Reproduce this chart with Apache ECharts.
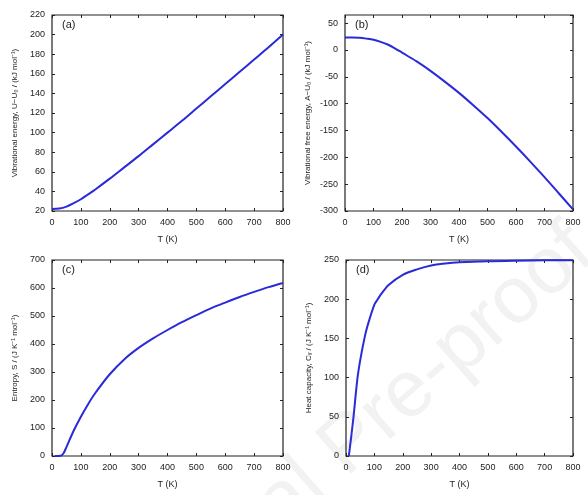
<!DOCTYPE html>
<html>
<head>
<meta charset="utf-8">
<script src="https://cdn.jsdelivr.net/npm/echarts@6/dist/echarts.min.js"></script>
<style>
html,body{margin:0;padding:0;background:#fff;}
#chart{width:588px;height:495px;}
</style>
</head>
<body>
<div id="chart"></div>
<script>
// Temperatures (K) and thermodynamic functions
var tempsU = [0, 25, 50, 75, 100, 125, 150, 200, 250, 300, 350, 400, 450, 500, 550, 600, 650, 700, 750, 800];
var energyU = [22, 22.5, 24.5, 28, 32, 37, 42, 53, 64.5, 76, 88, 100, 112, 124.5, 137, 149.5, 162, 174.5, 187, 200];

var tempsF = [0, 25, 50, 75, 100, 125, 150, 175, 200, 250, 300, 350, 400, 450, 500, 550, 600, 650, 700, 750, 800];
var freeEnergyF = [23, 23, 22.5, 21, 19, 15, 10, 3, -5, -21, -39, -59, -80, -103, -127, -153, -180, -208, -237, -267, -297];

var tempsS = [10, 30, 40, 50, 75, 100, 125, 150, 200, 250, 300, 350, 400, 450, 500, 550, 600, 650, 700, 750, 800];
var entropyS = [0, 1, 10, 32, 90, 140, 185, 225, 292, 345, 386, 420, 450, 478, 503, 527, 548, 568, 586, 603, 618];

var tempsC = [10, 25, 40, 50, 65, 75, 100, 112, 125, 150, 200, 250, 300, 350, 400, 500, 600, 700, 800];
var heatCapC = [0, 45, 98, 122, 150, 165, 193, 200, 207, 218, 231, 238, 243, 245.5, 247, 248.5, 249.2, 249.6, 249.8];

var xTicks = [0, 100, 200, 300, 400, 500, 600, 700, 800];
var panelTags = ['(a)', '(b)', '(c)', '(d)'];
var yNames = [
  'Vibrational energy, U\u2212U\u2080 / (kJ mol\u207b\u00b9)',
  'Vibrational free energy, A\u2212U\u2080 / (kJ mol\u207b\u00b9)',
  'Entropy, S / (J K\u207b\u00b9 mol\u207b\u00b9)',
  'Heat capacity, C\u1d65 / (J K\u207b\u00b9 mol\u207b\u00b9)'
];
var yRanges = [
  {min: 20, max: 220, interval: 20},
  {min: -300, max: 65, interval: 50},
  {min: 0, max: 700, interval: 100},
  {min: 0, max: 250, interval: 50}
];

function pairs(xs, ys) { return xs.map(function (t, i) { return [t, ys[i]]; }); }
var seriesData = [pairs(tempsU, energyU), pairs(tempsF, freeEnergyF), pairs(tempsS, entropyS), pairs(tempsC, heatCapC)];

var FONT = 'Liberation Sans';
var grids = [
  {left: 52, top: 15, width: 231, height: 196},
  {left: 345, top: 15, width: 228, height: 196},
  {left: 52, top: 260, width: 231, height: 196},
  {left: 346, top: 260, width: 227, height: 196}
];

var tick = {inside: true, length: 3, lineStyle: {color: '#222'}};
var hiddenLine = {show: false, onZero: false};
var xAxes = [], yAxes = [], series = [], graphic = [];
grids.forEach(function (g, i) {
  g.show = true; g.borderColor = '#222'; g.borderWidth = 1.2; g.backgroundColor = 'transparent';
  var r = yRanges[i];
  // bottom axis with labels
  xAxes.push({
    gridIndex: i, type: 'value', min: 0, max: 800, interval: 100, position: 'bottom',
    name: 'T (K)', nameLocation: 'middle', nameGap: 24,
    nameTextStyle: {fontFamily: FONT, fontSize: 9, color: '#222'},
    axisLine: hiddenLine, splitLine: {show: false}, axisTick: tick,
    axisLabel: {fontFamily: FONT, fontSize: 9, color: '#222', margin: 7}
  });
  // top mirror ticks
  xAxes.push({
    gridIndex: i, type: 'value', min: 0, max: 800, interval: 100, position: 'top',
    axisLine: hiddenLine, splitLine: {show: false}, axisTick: tick,
    axisLabel: {show: false}
  });
  var fmt = function (v) { return (v % r.interval === 0) ? String(v) : ''; };
  yAxes.push({
    gridIndex: i, type: 'value', min: r.min, max: r.max, interval: r.interval, position: 'left',
    name: yNames[i], nameLocation: 'middle', nameGap: 33,
    nameTextStyle: {fontFamily: FONT, fontSize: 8, color: '#222'},
    axisLine: hiddenLine, splitLine: {show: false}, axisTick: tick,
    axisLabel: {fontFamily: FONT, fontSize: 9, color: '#222', margin: 7, formatter: fmt, showMaxLabel: r.max % r.interval === 0}
  });
  yAxes.push({
    gridIndex: i, type: 'value', min: r.min, max: r.max, interval: r.interval, position: 'right',
    axisLine: hiddenLine, splitLine: {show: false}, axisTick: tick,
    axisLabel: {show: false}
  });
  series.push({
    type: 'line', xAxisIndex: i * 2, yAxisIndex: i * 2, data: seriesData[i],
    showSymbol: false, smooth: 0.3, clip: true, z: 5,
    lineStyle: {color: '#2a2ad8', width: 2}
  });
  graphic.push({
    type: 'text', left: g.left + 10, top: g.top + 4, z: 10,
    style: {text: panelTags[i], font: '11px ' + FONT, fill: '#222'}
  });
});

// faint watermark running diagonally up to the right
graphic.push({
  type: 'text', x: 350, y: 445, rotation: 0.72, z: -1,
  style: {text: 'Journal Pre-proof', font: '80px ' + FONT, fill: '#f2f2f2', align: 'center', verticalAlign: 'middle'}
});

var chart = echarts.init(document.getElementById('chart'), null, {renderer: 'canvas'});
chart.setOption({
  animation: false,
  backgroundColor: '#fff',
  grid: grids,
  xAxis: xAxes,
  yAxis: yAxes,
  series: series,
  graphic: graphic
});
</script>
</body>
</html>
